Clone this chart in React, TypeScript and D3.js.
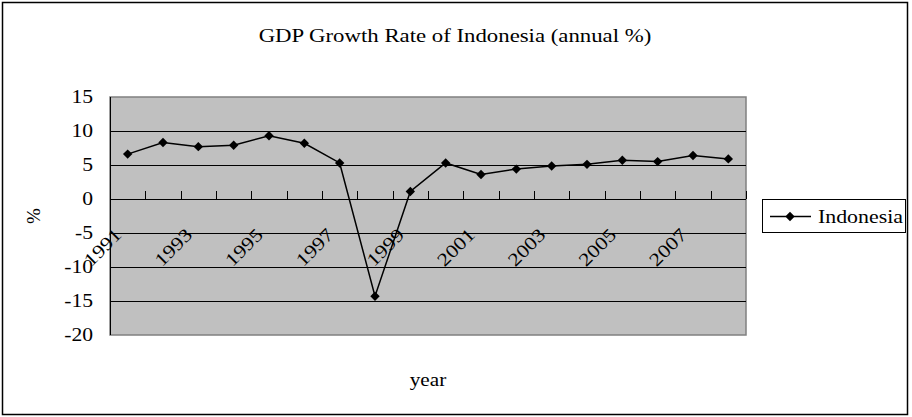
import React from "react";
import * as d3 from "d3";

const years = ["1991","1992","1993","1994","1995","1996","1997","1998","1999","2000","2001","2002","2003","2004","2005","2006","2007","2008"];
const growth = [6.6, 8.3, 7.7, 7.9, 9.3, 8.2, 5.3, -14.3, 1.1, 5.3, 3.6, 4.4, 4.85, 5.1, 5.7, 5.5, 6.4, 5.9];
const yTicks = [15, 10, 5, 0, -5, -10, -15, -20];
const seriesName = "Indonesia";
const titleText = "GDP Growth Rate of Indonesia (annual %)";

const W = 912, H = 417;
const plot = { left: 110, right: 746, top: 97, bottom: 335 };
const FONT = '"Liberation Serif"';
const SX = 1.2;

export default function App() {
  const x = d3.scaleBand().domain(years).range([plot.left, plot.right]).padding(0);
  const y = d3.scaleLinear().domain([-20, 15]).range([plot.bottom, plot.top]);
  const cx = (d: string) => (x(d) as number) + x.bandwidth() / 2;
  const line = d3.line<number>().x((_, i) => cx(years[i])).y((v) => y(v));
  const diamond = d3.symbol(d3.symbolSquare, 44)() as string;
  const y0 = y(0);
  const ts = { fontFamily: FONT };

  return (
    <svg width={W} height={H} style={{ position: "absolute", left: 0, top: 0, background: "#fff" }}>
      <rect x={2.5} y={2.5} width={905} height={412} fill="#fff" stroke="#000" strokeWidth={1.5} />
      <text style={ts} transform={`translate(455,42) scale(${SX},1)`} textAnchor="middle" fontSize={19}>{titleText}</text>

      <rect x={plot.left} y={plot.top} width={plot.right - plot.left} height={plot.bottom - plot.top} fill="#C0C0C0" stroke="#808080" strokeWidth={1.5} />
      {yTicks.filter((t) => t !== 15 && t !== -20).map((t) => (
        <line key={t} x1={plot.left} x2={plot.right} y1={Math.round(y(t)) + 0.5} y2={Math.round(y(t)) + 0.5} stroke="#000" strokeWidth={1} />
      ))}
      <line x1={plot.left + 0.5} x2={plot.left + 0.5} y1={plot.top} y2={plot.bottom} stroke="#000" strokeWidth={1} />
      {years.map((d, i) => {
        const bx = Math.round((x(d) as number) + x.bandwidth()) + 0.5;
        return <line key={"t" + i} x1={bx} x2={bx} y1={Math.round(y0)} y2={Math.round(y0) - 8} stroke="#000" strokeWidth={1} />;
      })}

      {yTicks.map((t) => (
        <text key={"yl" + t} style={ts} transform={`translate(93,${y(t) + 6}) scale(${SX},1)`} textAnchor="end" fontSize={18}>{t}</text>
      ))}
      {years.map((d, i) =>
        i % 2 === 0 ? (
          <text key={"xl" + d} style={ts} transform={`translate(${cx(d) - 5},${y0 + 37}) rotate(-45) scale(${SX},1)`} textAnchor="end" fontSize={18.5}>{d}</text>
        ) : null
      )}

      <path d={line(growth) as string} fill="none" stroke="#000" strokeWidth={1.5} />
      {growth.map((v, i) => (
        <path key={"m" + i} d={diamond} transform={`translate(${cx(years[i])},${y(v)}) rotate(45)`} fill="#000" />
      ))}

      <text style={ts} transform={`translate(40,${(plot.top + plot.bottom) / 2}) rotate(-90)`} textAnchor="middle" fontSize={19}>%</text>
      <text style={ts} transform={`translate(${(plot.left + plot.right) / 2},386) scale(1.18,1)`} textAnchor="middle" fontSize={18}>year</text>

      <rect x={762.5} y={199.5} width={143} height={33} fill="#fff" stroke="#000" strokeWidth={1} />
      <line x1={770} x2={811} y1={216.5} y2={216.5} stroke="#000" strokeWidth={1.5} />
      <path d={diamond} transform={`translate(790,216.5) rotate(45)`} fill="#000" />
      <text style={ts} transform={`translate(818,223) scale(1.15,1)`} fontSize={19}>{seriesName}</text>
    </svg>
  );
}
